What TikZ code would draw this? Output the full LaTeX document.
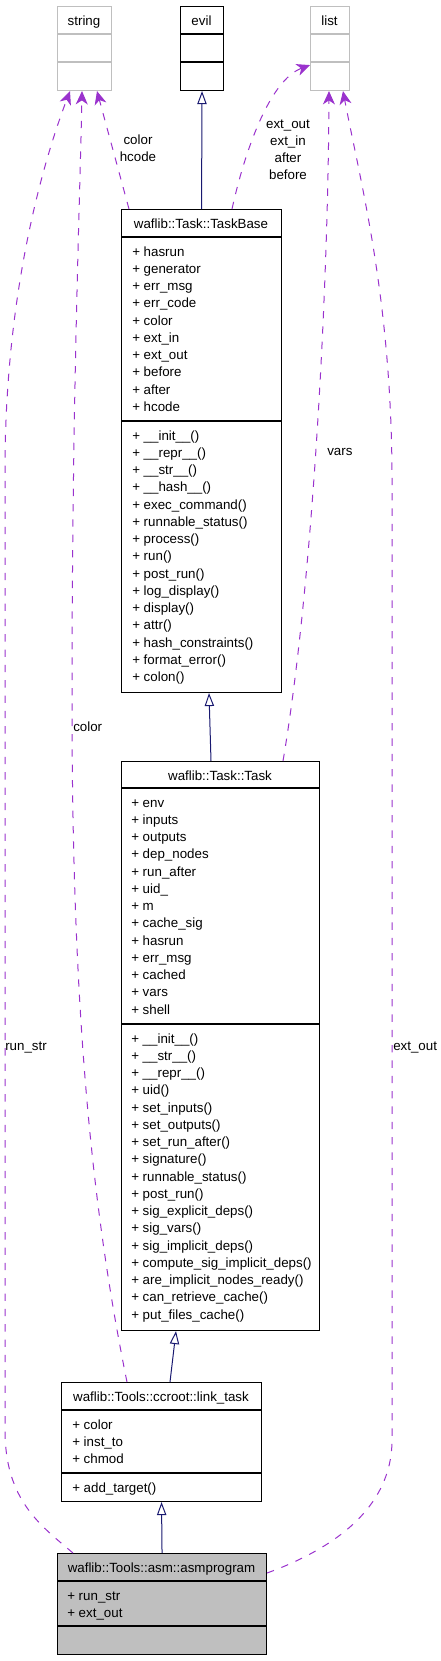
\documentclass[tikz,border=0pt]{standalone}
\usepackage{fontspec}
\setmainfont{Liberation Sans}
\usetikzlibrary{arrows.meta,calc}
\definecolor{purp}{HTML}{9A32CD}
\definecolor{navyb}{HTML}{191970}
\definecolor{lgray}{HTML}{BFBFBF}
\begin{document}
\begin{tikzpicture}[x=0.75pt,y=-0.75pt,
  font=\fontsize{10}{12}\selectfont,
  cls/.style={draw, rectangle, inner sep=0, anchor=north west, line width=0.8pt},
  extcls/.style={cls, draw=lgray},
  ttl/.style={anchor=base, inner sep=0},
  mem/.style={anchor=base west, inner sep=0},
  lbl/.style={anchor=base west, inner sep=0},
  clbl/.style={anchor=base, inner sep=0},
  divl/.style={line width=0.8pt},
  dep/.style={draw=purp, line width=0.75pt, dash pattern=on 5.5pt off 6pt,
    -{Stealth[length=10pt,width=9pt,inset=3pt]}},
  inh/.style={draw=navyb, line width=0.75pt,
    -{Triangle[length=9.75pt,width=7pt,fill=white]}}]
\useasboundingbox (0,0) rectangle (441,1661);

% ---- top classes
\node[extcls, minimum width=40.5pt, minimum height=63pt] (string) at (57,6) {};
\draw[divl, lgray] (string.west |- 0,34) -- (string.east |- 0,34);
\draw[divl, lgray] (string.west |- 0,62) -- (string.east |- 0,62);
\node[ttl] (string-t) at (84,25) {string};

\node[cls, minimum width=32.25pt, minimum height=63pt] (evil) at (180,6) {};
\draw[divl] (evil.west |- 0,34) -- (evil.east |- 0,34);
\draw[divl] (evil.west |- 0,62) -- (evil.east |- 0,62);
\node[ttl] (evil-t) at (201.5,25) {evil};

\node[extcls, minimum width=29.25pt, minimum height=63pt] (list) at (310,6) {};
\draw[divl, lgray] (list.west |- 0,34) -- (list.east |- 0,34);
\draw[divl, lgray] (list.west |- 0,62) -- (list.east |- 0,62);
\node[ttl] (list-t) at (329.5,25) {list};

% ---- TaskBase
\node[cls, minimum width=120pt, minimum height=362.25pt] (taskbase) at (121,209) {};
\draw[divl] (taskbase.west |- 0,237) -- (taskbase.east |- 0,237);
\draw[divl] (taskbase.west |- 0,421) -- (taskbase.east |- 0,421);
\node[ttl] (taskbase-t) at (201,228) {waflib::Task::TaskBase};
\foreach \t [count=\i from 0] in {hasrun,generator,err\_msg,err\_code,color,ext\_in,ext\_out,before,after,hcode}
  \node[mem] (tba\i) at (132,256+17.25*\i) {+ \t};
\foreach \t [count=\i from 0] in {\_\_init\_\_(),\_\_repr\_\_(),\_\_str\_\_(),\_\_hash\_\_(),exec\_command(),runnable\_status(),process(),run(),post\_run(),log\_display(),display(),attr(),hash\_constraints(),format\_error(),colon()}
  \node[mem] (tbm\i) at (132,440+17.25*\i) {+ \t};

% ---- Task
\node[cls, minimum width=148.5pt, minimum height=426.75pt] (task) at (121,761) {};
\draw[divl] (task.west |- 0,788) -- (task.east |- 0,788);
\draw[divl] (task.west |- 0,1024) -- (task.east |- 0,1024);
\node[ttl] (task-t) at (220,780) {waflib::Task::Task};
\foreach \t [count=\i from 0] in {env,inputs,outputs,dep\_nodes,run\_after,uid\_,m,cache\_sig,hasrun,err\_msg,cached,vars,shell}
  \node[mem] (ta\i) at (131,807+17.25*\i) {+ \t};
\foreach \t [count=\i from 0] in {\_\_init\_\_(),\_\_str\_\_(),\_\_repr\_\_(),uid(),set\_inputs(),set\_outputs(),set\_run\_after(),signature(),runnable\_status(),post\_run(),sig\_explicit\_deps(),sig\_vars(),sig\_implicit\_deps(),compute\_sig\_implicit\_deps(),are\_implicit\_nodes\_ready(),can\_retrieve\_cache(),put\_files\_cache()}
  \node[mem] (tm\i) at (131,1043+17.25*\i) {+ \t};

% ---- link_task
\node[cls, minimum width=150pt, minimum height=89.25pt] (linktask) at (61,1382) {};
\draw[divl] (linktask.west |- 0,1410) -- (linktask.east |- 0,1410);
\draw[divl] (linktask.west |- 0,1473) -- (linktask.east |- 0,1473);
\node[ttl] (linktask-t) at (161,1401) {waflib::Tools::ccroot::link\_task};
\foreach \t [count=\i from 0] in {color,inst\_to,chmod}
  \node[mem] (la\i) at (72,1429+17.25*\i) {+ \t};
\node[mem] (lm0) at (72,1492) {+ add\_target()};

% ---- asmprogram
\node[cls, fill=lgray, minimum width=156.75pt, minimum height=75.75pt] (asm) at (57,1553) {};
\draw[divl] (asm.west |- 0,1581) -- (asm.east |- 0,1581);
\draw[divl] (asm.west |- 0,1626) -- (asm.east |- 0,1626);
\node[ttl] (asm-t) at (161.5,1572) {waflib::Tools::asm::asmprogram};
\foreach \t [count=\i from 0] in {run\_str,ext\_out}
  \node[mem] (aa\i) at (67,1600+17.25*\i) {+ \t};

% ---- inheritance
\draw[inh] (taskbase.north) -- (evil.south);
\draw[inh] ($(task.north west)+(90,0)$) -- ($(taskbase.south west)+(88,0)$);
\draw[inh] ($(linktask.north west)+(109,0)$) -- ($(task.south west)+(55,0)$);
\draw[inh] (asm.north) -- (linktask.south);

% ---- usage
\draw[dep] ($(taskbase.north west)+(8,0)$) -- ($(string.south west)+(40,0)$);
\draw[dep] ($(taskbase.north west)+(111,0)$) .. controls (245,150) and (270,80) .. ($(list.south west)+(0,-26)$);
\draw[dep] ($(task.north west)+(162,0)$) .. controls (312,590) and (328,300) .. ($(list.south west)+(19,0)$);
\draw[dep] ($(linktask.north west)+(66,0)$) .. controls (90,1200) and (72,1000) .. (72,700) .. controls (72,400) and (80,200) .. ($(string.south west)+(25,0)$);
\draw[dep] ($(asm.north west)+(16,0)$) .. controls (40,1525) and (5,1500) .. (5,1430) -- (5,470) .. controls (5,300) and (40,170) .. ($(string.south west)+(13,0)$);
\draw[dep] ($(asm.north east)+(0,20)$) .. controls (330,1550) and (392,1510) .. (392,1440) -- (392,480) .. controls (392,300) and (360,180) .. ($(list.south west)+(33,0)$);

% ---- labels
\foreach \t [count=\i from 0] in {color,hcode}
  \node[clbl] (lch\i) at (138,144+17.25*\i) {\t};
\foreach \t [count=\i from 0] in {ext\_out,ext\_in,after,before}
  \node[clbl] (lex\i) at (288,128+17.25*\i) {\t};
\node[lbl] (lvars) at (327,455) {vars};
\node[lbl] (lcolor) at (73,731) {color};
\node[lbl] (lrun) at (5,1050) {run\_str};
\node[lbl] (lext) at (393,1050) {ext\_out};
\end{tikzpicture}
\end{document}
